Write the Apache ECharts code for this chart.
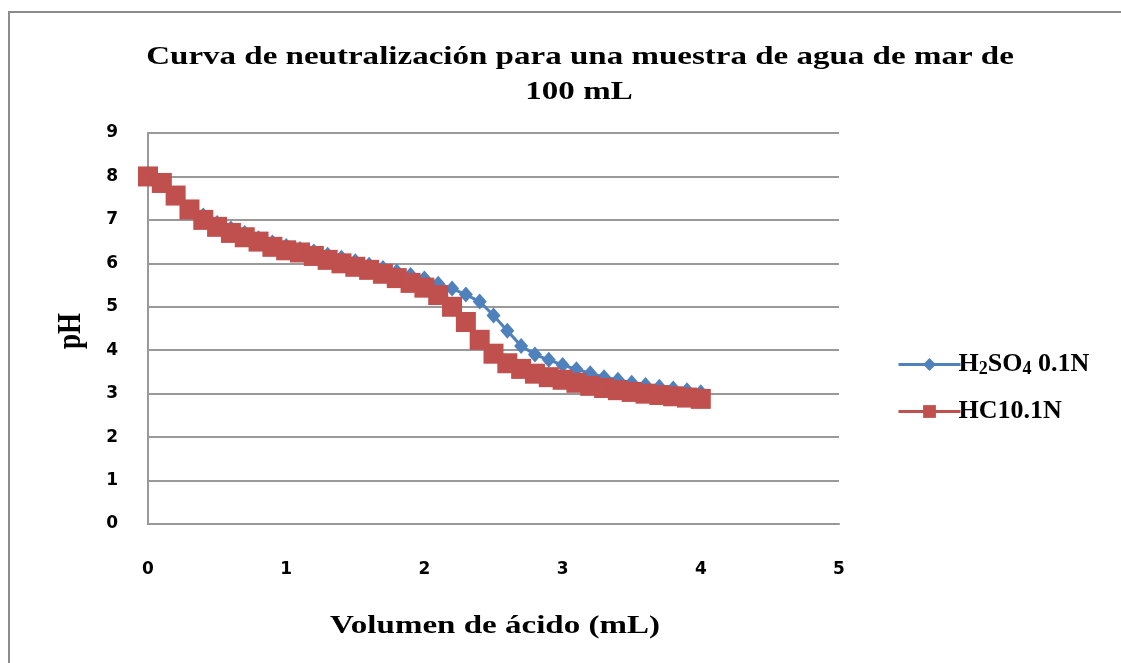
<!DOCTYPE html>
<html>
<head>
<meta charset="utf-8">
<script src="https://cdn.jsdelivr.net/npm/echarts@6/dist/echarts.min.js"></script>
<style>html,body{margin:0;padding:0;background:#fff}#c{width:1121px;height:663px}</style>
</head>
<body>
<div id="c"></div>
<script>
const volumes = [0.0,0.1,0.2,0.3,0.4,0.5,0.6,0.7,0.8,0.9,1.0,1.1,1.2,1.3,1.4,1.5,1.6,1.7,1.8,1.9,2.0,2.1,2.2,2.3,2.4,2.5,2.6,2.7,2.8,2.9,3.0,3.1,3.2,3.3,3.4,3.5,3.6,3.7,3.8,3.9,4.0];
const phH2SO4 = [8.0,7.8,7.52,7.25,7.1,6.93,6.8,6.7,6.58,6.48,6.4,6.33,6.27,6.2,6.13,6.05,5.97,5.89,5.81,5.73,5.65,5.53,5.42,5.28,5.12,4.8,4.45,4.1,3.9,3.78,3.66,3.56,3.47,3.38,3.32,3.25,3.2,3.16,3.12,3.08,3.03];
const phHCl = [8.0,7.85,7.56,7.24,7.0,6.84,6.7,6.6,6.5,6.38,6.3,6.25,6.17,6.08,6.0,5.92,5.85,5.76,5.66,5.55,5.44,5.27,5.0,4.65,4.24,3.92,3.7,3.57,3.46,3.38,3.32,3.25,3.18,3.13,3.08,3.04,3.0,2.97,2.94,2.91,2.88];
const seriesNames = ['H2SO4 0.1N', 'HC10.1N'];
const titleLines = ['Curva de neutralización para una muestra de agua de mar de', '100 mL'];
const xAxisName = 'Volumen de ácido (mL)';
const yAxisName = 'pH';

const serif = '"Liberation Serif", "Times New Roman", serif';
const sans = '"DejaVu Sans", Verdana, sans-serif';
const stretch = 1.27;

const chart = echarts.init(document.getElementById('c'));
chart.setOption({
  backgroundColor: '#fff',
  animation: false,
  graphic: [
    { type: 'rect', shape: { x: 9, y: 12, width: 1200, height: 800 }, style: { fill: 'none', stroke: '#8c8c8c', lineWidth: 2 }, z: 0 },
    { type: 'text', x: 580, y: 57, scaleX: stretch, style: { x: 0, y: 0, text: titleLines[0], font: 'bold 26px ' + serif, fill: '#000', textAlign: 'center', textVerticalAlign: 'middle' } },
    { type: 'text', x: 579, y: 92, scaleX: stretch, style: { x: 0, y: 0, text: titleLines[1], font: 'bold 26px ' + serif, fill: '#000', textAlign: 'center', textVerticalAlign: 'middle' } },
    { type: 'text', x: 495, y: 626, scaleX: stretch, style: { x: 0, y: 0, text: xAxisName, font: 'bold 26px ' + serif, fill: '#000', textAlign: 'center', textVerticalAlign: 'middle' } },
    { type: 'text', x: 71, y: 331, rotation: Math.PI / 2, scaleY: stretch, style: { x: 0, y: 0, text: yAxisName, font: 'bold 27px ' + serif, fill: '#000', textAlign: 'center', textVerticalAlign: 'middle' } }
  ],
  grid: { left: 148, top: 133, width: 691, height: 391, containLabel: false },
  legend: {
    orient: 'vertical',
    left: 892,
    top: 345,
    itemWidth: 62,
    itemHeight: 16,
    itemGap: 20,
    data: seriesNames,
    lineStyle: { width: 3 },
    formatter: function (n) {
      if (n === seriesNames[0]) return 'H{s|2}SO{s|4} 0.1N';
      return n;
    },
    textStyle: {
      fontFamily: serif, fontWeight: 'bold', fontSize: 26, lineHeight: 27, color: '#000', padding: [0, 0, 0, -7],
      rich: { s: { fontFamily: serif, fontWeight: 'bold', fontSize: 18, lineHeight: 27, color: '#000', verticalAlign: 'bottom', padding: [10, 0, 0, 0] } }
    }
  },
  xAxis: {
    type: 'value', min: 0, max: 5, interval: 1,
    axisLine: { show: true, lineStyle: { color: '#999', width: 2 } },
    axisTick: { show: false },
    splitLine: { show: false },
    axisLabel: { margin: 37, fontFamily: sans, fontWeight: 'bold', fontSize: 17, color: '#000' }
  },
  yAxis: {
    type: 'value', min: 0, max: 9, interval: 1,
    axisLine: { show: true, lineStyle: { color: '#999', width: 2 } },
    axisTick: { show: false },
    splitLine: { show: true, lineStyle: { color: '#999', width: 2 } },
    axisLabel: { margin: 30, fontFamily: sans, fontWeight: 'bold', fontSize: 17, color: '#000' }
  },
  series: [
    {
      name: seriesNames[0], type: 'line',
      data: volumes.map((v, i) => [v, phH2SO4[i]]),
      symbol: 'diamond', symbolSize: [14, 16],
      lineStyle: { color: '#4F81BD', width: 3 },
      itemStyle: { color: '#4F81BD', borderWidth: 0 }
    },
    {
      name: seriesNames[1], type: 'line',
      data: volumes.map((v, i) => [v, phHCl[i]]),
      symbol: 'rect', symbolSize: 20,
      lineStyle: { color: '#C0504D', width: 3 },
      itemStyle: { color: '#C0504D', borderWidth: 0 }
    }
  ]
});
</script>
</body>
</html>
